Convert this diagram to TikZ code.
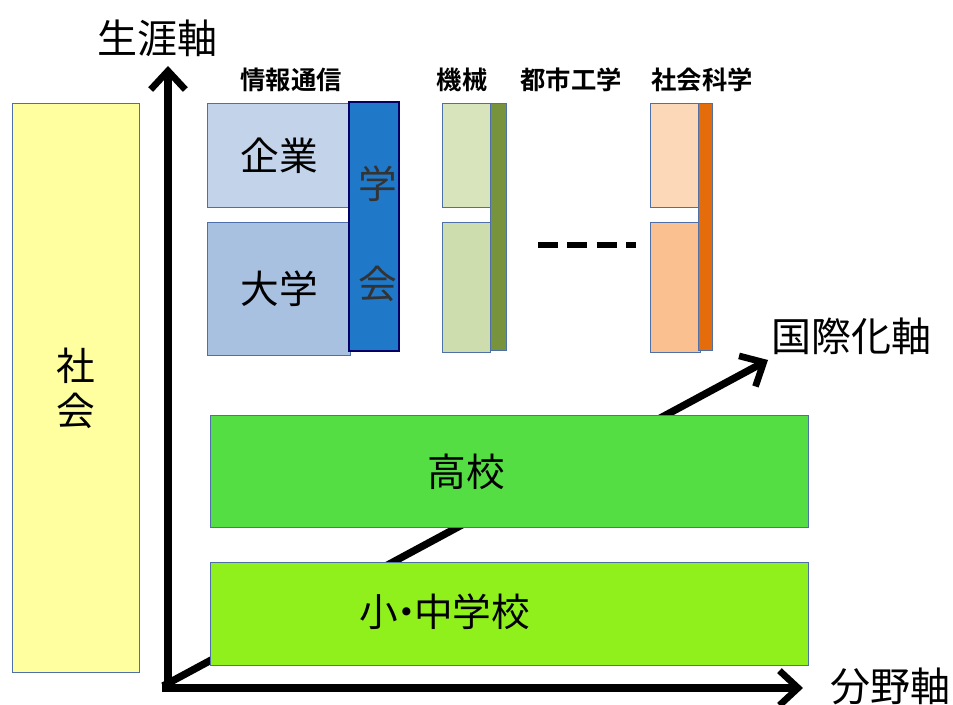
\documentclass[tikz,border=0pt]{standalone}
\usepackage{fontspec}
\setmainfont{Noto Sans CJK JP}
\newfontfamily\jpb{Noto Sans CJK JP Bold}
\usetikzlibrary{arrows.meta}
\definecolor{shakai}{HTML}{FFFF9F}
\definecolor{kigyo}{HTML}{C3D3EA}
\definecolor{daigaku}{HTML}{A9C1E1}
\definecolor{gakkai}{HTML}{2078C8}
\definecolor{bord}{HTML}{4F6FA8}
\definecolor{kikaiA}{HTML}{D8E4BC}
\definecolor{kikaiB}{HTML}{CEDDAE}
\definecolor{kikaiS}{HTML}{77933C}
\definecolor{shaA}{HTML}{FCD8B8}
\definecolor{shaB}{HTML}{FAC090}
\definecolor{shaS}{HTML}{E46C0A}
\definecolor{koko}{HTML}{55DD44}
\definecolor{shochu}{HTML}{90F01C}
\tikzset{
  box/.style={draw=bord, line width=0.9pt, inner sep=0pt},
  axis/.style={line width=5.5pt, -{Straight Barb[length=14pt,width=26pt,line width=5pt]}},
  biglabel/.style={font=\fontsize{29}{32}\selectfont},
  axlabel/.style={font=\fontsize{30}{32}\selectfont},
  collabel/.style={font=\fontsize{19}{21}\selectfont\jpb},
}
\begin{document}
\begin{tikzpicture}[x=0.75pt,y=-0.75pt]
\useasboundingbox (0,0) rectangle (953,705);
% diagonal axis (behind boxes)
\coordinate (O) at (163,686);
\coordinate (D) at (768,360);
\coordinate (V) at (168,66);
\coordinate (H) at (803,688);
\coordinate (Ov) at (168,690);
\coordinate (Oh) at (162,688);
\draw[axis] (O) -- (D);
% society
\node[box, fill=shakai, minimum width=127*0.75pt, minimum height=569*0.75pt, anchor=north west, biglabel, align=center] (shakai) at (12,103) {社\\[2pt]会};
% ICT column
\node[box, fill=kigyo, minimum width=143*0.75pt, minimum height=104*0.75pt, anchor=north west, biglabel] (kigyo) at (207,103) {企業};
\node[box, fill=daigaku, minimum width=143*0.75pt, minimum height=133*0.75pt, anchor=north west, biglabel] (daigaku) at (207,222) {大学};
\node[draw=blue!40!black, line width=1.2pt, fill=gakkai, minimum width=50*0.75pt, minimum height=249*0.75pt, anchor=north west, inner sep=0pt] (gakkai) at (348,101) {};
\node[biglabel, text=black!80] (gaku) at (378,184) {学};
\node[biglabel, text=black!80] (kai) at (378,284) {会};
% machine column
\node[box, fill=kikaiA, minimum width=48*0.75pt, minimum height=104*0.75pt, anchor=north west] (kA) at (442,103) {};
\node[box, fill=kikaiB, minimum width=48*0.75pt, minimum height=130*0.75pt, anchor=north west] (kB) at (442,222) {};
\node[box, fill=kikaiS, minimum width=16*0.75pt, minimum height=247*0.75pt, anchor=north west] (kS) at (490,103) {};
% social science column
\node[box, fill=shaA, minimum width=50*0.75pt, minimum height=104*0.75pt, anchor=north west] (sA) at (650,103) {};
\node[box, fill=shaB, minimum width=50*0.75pt, minimum height=130*0.75pt, anchor=north west] (sB) at (650,222) {};
\node[box, fill=shaS, minimum width=14*0.75pt, minimum height=247*0.75pt, anchor=north west] (sS) at (698,103) {};
% dashes
\coordinate (dA) at (538,245);
\coordinate (dB) at (636,245);
\draw[line width=5pt, dash pattern=on 15pt off 7pt] (dA) -- (dB);
% column labels
\node[collabel] (l1) at (291,80) {情報通信};
\node[collabel] (l2) at (462,80) {機械};
\node[collabel] (l3) at (571,80) {都市工学};
\node[collabel] (l4) at (702,80) {社会科学};
% schools
\node[box, fill=koko, minimum width=598*0.75pt, minimum height=112*0.75pt, anchor=north west] (koko) at (210,415) {};
\node[biglabel] (kokot) at (466,472) {高校};
\node[box, fill=shochu, minimum width=598*0.75pt, minimum height=103*0.75pt, anchor=north west] (shochu) at (210,562) {};
\node[biglabel] (shochut) at (445,612) {小\kern-0.3em・\kern-0.3em中学校};
% axes
\draw[axis] (Ov) -- (V);
\draw[axis] (Oh) -- (H);
% axis labels
\node[axlabel] (ax1) at (157,38) {生涯軸};
\node[axlabel] (ax2) at (851,336) {国際化軸};
\node[axlabel] (ax3) at (890,686) {分野軸};
\end{tikzpicture}
\end{document}
